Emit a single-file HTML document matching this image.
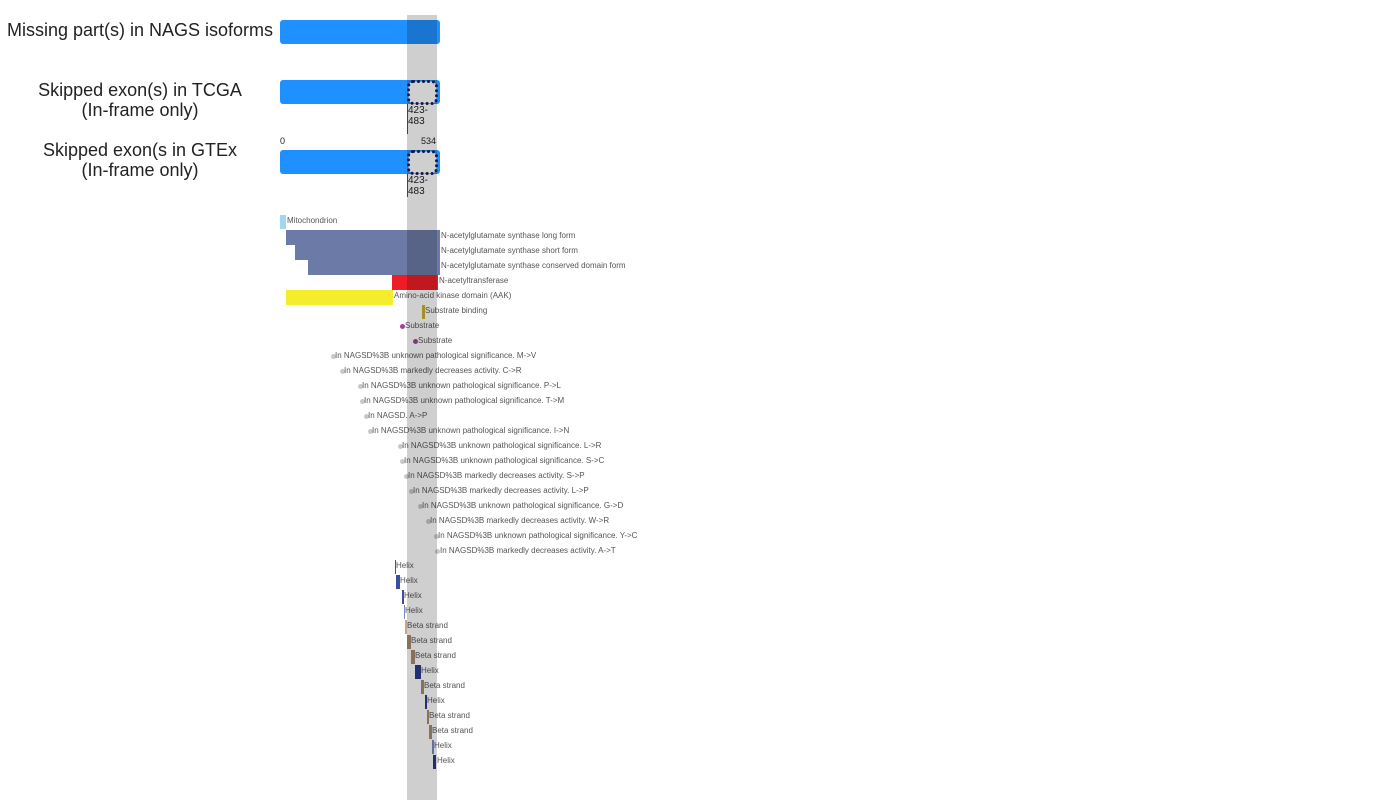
<!DOCTYPE html>
<html><head><meta charset="utf-8">
<style>
body{margin:0;width:1400px;height:800px;background:#fff;position:relative;overflow:hidden;font-family:"Liberation Sans",Arial,sans-serif}
.a{position:absolute}
.lbl{position:absolute;left:0;width:280px;text-align:center;font-size:18px;color:#222;line-height:20px}
.bar{position:absolute;left:280px;width:160px;height:24px;background:#1e90ff;border-radius:3px}
.t{position:absolute;font-size:8px;color:#555;line-height:10px;white-space:nowrap;margin-top:1px}
.s{position:absolute;font-size:10px;color:#222;line-height:11px}
.d{position:absolute;width:5px;height:5px;border-radius:50%;background:#c8c8c8}
.f{position:absolute}
</style></head><body>
<div class="lbl" style="top:20px">Missing part(s) in NAGS isoforms</div>
<div class="lbl" style="top:80px">Skipped exon(s) in TCGA<br>(In-frame only)</div>
<div class="lbl" style="top:140px">Skipped exon(s in GTEx<br>(In-frame only)</div>

<div class="bar" style="top:20px"></div>
<div class="bar" style="top:80px"></div>
<div class="bar" style="top:150px"></div>
<svg class="a" style="left:0;top:0" width="1400" height="200">
<rect x="408.5" y="81.5" width="28" height="22" rx="5" fill="#fff" stroke="#1a1a5e" stroke-width="3" stroke-dasharray="0 5" stroke-linecap="round"/>
<rect x="408.5" y="151.5" width="28" height="22" rx="5" fill="#fff" stroke="#1a1a5e" stroke-width="3" stroke-dasharray="0 5" stroke-linecap="round"/>
</svg>
<div class="a" style="left:407px;top:104px;width:1px;height:30px;background:#1e5fa8"></div>
<div class="a" style="left:407px;top:174px;width:1px;height:23px;background:#1e5fa8"></div>
<div class="s" style="left:408px;top:105px">423-<br>483</div>
<div class="s" style="left:408px;top:175px">423-<br>483</div>
<div class="s" style="left:280px;top:136px;font-size:9px">0</div>
<div class="s" style="left:421px;top:136px;font-size:9px">534</div>

<div class="f" style="left:280px;top:215px;width:6px;height:14px;background:#a0d8f4"></div>
<div class="t" style="left:287px;top:215px">Mitochondrion</div>
<div class="f" style="left:286px;top:230px;width:154px;height:15px;background:#6b7aa6"></div>
<div class="t" style="left:441px;top:230px">N-acetylglutamate synthase long form</div>
<div class="f" style="left:295px;top:245px;width:145px;height:15px;background:#6b7aa6"></div>
<div class="t" style="left:441px;top:245px">N-acetylglutamate synthase short form</div>
<div class="f" style="left:308px;top:260px;width:132px;height:15px;background:#6b7aa6"></div>
<div class="t" style="left:441px;top:260px">N-acetylglutamate synthase conserved domain form</div>
<div class="f" style="left:392px;top:275px;width:46px;height:15px;background:#ee1c25"></div>
<div class="t" style="left:439px;top:275px">N-acetyltransferase</div>
<div class="f" style="left:286px;top:290px;width:107px;height:15px;background:#f5ec2c"></div>
<div class="t" style="left:394px;top:290px">Amino-acid kinase domain (AAK)</div>
<div class="f" style="left:422px;top:305px;width:3px;height:14px;background:#c8b22a"></div>
<div class="t" style="left:425px;top:305px">Substrate binding</div>
<div class="d" style="left:400px;top:324px;background:#a0439a"></div>
<div class="t" style="left:405px;top:320px">Substrate</div>
<div class="d" style="left:413px;top:339px;background:#a0439a"></div>
<div class="t" style="left:418px;top:335px">Substrate</div>

<div class="d" style="left:331px;top:354px"></div><div class="t" style="left:335px;top:350px">In NAGSD%3B unknown pathological significance. M-&gt;V</div>
<div class="d" style="left:340px;top:369px"></div><div class="t" style="left:344px;top:365px">In NAGSD%3B markedly decreases activity. C-&gt;R</div>
<div class="d" style="left:358px;top:384px"></div><div class="t" style="left:362px;top:380px">In NAGSD%3B unknown pathological significance. P-&gt;L</div>
<div class="d" style="left:360px;top:399px"></div><div class="t" style="left:364px;top:395px">In NAGSD%3B unknown pathological significance. T-&gt;M</div>
<div class="d" style="left:364px;top:414px"></div><div class="t" style="left:368px;top:410px">In NAGSD. A-&gt;P</div>
<div class="d" style="left:368px;top:429px"></div><div class="t" style="left:372px;top:425px">In NAGSD%3B unknown pathological significance. I-&gt;N</div>
<div class="d" style="left:398px;top:444px"></div><div class="t" style="left:402px;top:440px">In NAGSD%3B unknown pathological significance. L-&gt;R</div>
<div class="d" style="left:400px;top:459px"></div><div class="t" style="left:404px;top:455px">In NAGSD%3B unknown pathological significance. S-&gt;C</div>
<div class="d" style="left:404px;top:474px"></div><div class="t" style="left:408px;top:470px">In NAGSD%3B markedly decreases activity. S-&gt;P</div>
<div class="d" style="left:409px;top:489px"></div><div class="t" style="left:413px;top:485px">In NAGSD%3B markedly decreases activity. L-&gt;P</div>
<div class="d" style="left:418px;top:504px"></div><div class="t" style="left:422px;top:500px">In NAGSD%3B unknown pathological significance. G-&gt;D</div>
<div class="d" style="left:426px;top:519px"></div><div class="t" style="left:430px;top:515px">In NAGSD%3B markedly decreases activity. W-&gt;R</div>
<div class="d" style="left:434px;top:534px"></div><div class="t" style="left:438px;top:530px">In NAGSD%3B unknown pathological significance. Y-&gt;C</div>
<div class="d" style="left:435px;top:549px"></div><div class="t" style="left:440px;top:545px">In NAGSD%3B markedly decreases activity. A-&gt;T</div>

<div class="f" style="left:395px;top:560px;width:1px;height:14px;background:#3a4fa0"></div><div class="t" style="left:396px;top:560px">Helix</div>
<div class="f" style="left:396px;top:575px;width:4px;height:14px;background:#3a4fa0"></div><div class="t" style="left:400px;top:575px">Helix</div>
<div class="f" style="left:402px;top:590px;width:2px;height:14px;background:#3a4fa0"></div><div class="t" style="left:404px;top:590px">Helix</div>
<div class="f" style="left:404px;top:605px;width:1px;height:14px;background:#7a8ac8"></div><div class="t" style="left:405px;top:605px">Helix</div>
<div class="f" style="left:405px;top:620px;width:2px;height:14px;background:#c8a882"></div><div class="t" style="left:407px;top:620px">Beta strand</div>
<div class="f" style="left:407px;top:635px;width:4px;height:14px;background:#a88a70"></div><div class="t" style="left:411px;top:635px">Beta strand</div>
<div class="f" style="left:411px;top:650px;width:4px;height:14px;background:#a88a70"></div><div class="t" style="left:415px;top:650px">Beta strand</div>
<div class="f" style="left:415px;top:665px;width:6px;height:14px;background:#2a3a8a"></div><div class="t" style="left:421px;top:665px">Helix</div>
<div class="f" style="left:421px;top:680px;width:3px;height:14px;background:#a88a70"></div><div class="t" style="left:424px;top:680px">Beta strand</div>
<div class="f" style="left:425px;top:695px;width:2px;height:14px;background:#2a3a8a"></div><div class="t" style="left:427px;top:695px">Helix</div>
<div class="f" style="left:427px;top:710px;width:2px;height:14px;background:#a88a70"></div><div class="t" style="left:429px;top:710px">Beta strand</div>
<div class="f" style="left:429px;top:725px;width:3px;height:14px;background:#a88a70"></div><div class="t" style="left:432px;top:725px">Beta strand</div>
<div class="f" style="left:432px;top:740px;width:2px;height:14px;background:#7a8ac8"></div><div class="t" style="left:434px;top:740px">Helix</div>
<div class="f" style="left:433px;top:755px;width:3px;height:14px;background:#2a3a8a"></div><div class="t" style="left:437px;top:755px">Helix</div>

<div class="a" style="left:407px;top:15px;width:30px;height:785px;background:#cfcfcf;mix-blend-mode:multiply"></div>
</body></html>
